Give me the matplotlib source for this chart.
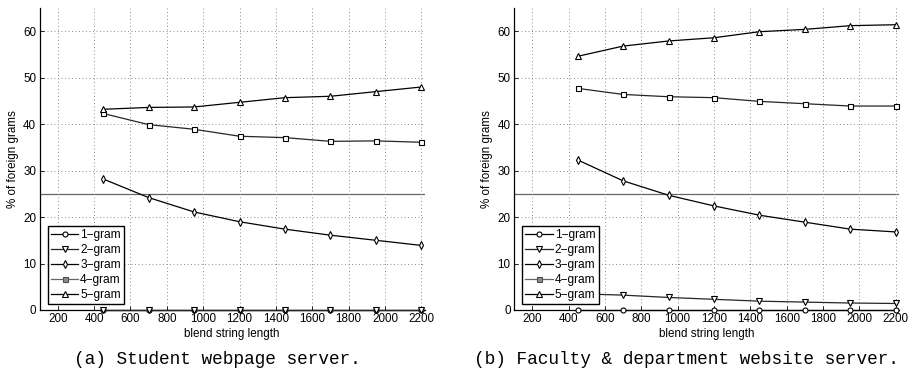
import matplotlib
matplotlib.use("Agg")
import matplotlib.pyplot as plt
from matplotlib.lines import Line2D

plt.rcParams['font.family'] = ['Liberation Sans', 'DejaVu Sans']

blend_len = [450, 700, 950, 1200, 1450, 1700, 1950, 2200]
series_names = ['1\u2212gram', '2\u2212gram', '3\u2212gram', '4\u2212gram', '5\u2212gram']

# (a) student webpage server
student = {
    '1': [0, 0, 0, 0, 0, 0, 0, 0],
    '2': [0, 0, 0, 0, 0, 0, 0, 0],
    '3': [28.2, 24.2, 21.1, 19.0, 17.4, 16.1, 15.0, 13.9],
    '4': [42.3, 39.9, 38.9, 37.4, 37.1, 36.3, 36.4, 36.1],
    '5': [43.2, 43.6, 43.7, 44.7, 45.7, 46.0, 47.0, 48.0],
}
# (b) faculty & department website server
faculty = {
    '1': [0, 0, 0, 0, 0, 0, 0, 0],
    '2': [3.5, 3.2, 2.7, 2.3, 1.9, 1.7, 1.5, 1.4],
    '3': [32.3, 27.8, 24.7, 22.4, 20.4, 18.9, 17.4, 16.8],
    '4': [47.7, 46.4, 45.9, 45.7, 44.9, 44.4, 43.9, 43.9],
    '5': [54.6, 56.8, 57.9, 58.6, 59.9, 60.4, 61.2, 61.4],
}
threshold = 25
x_ticks = [200, 400, 600, 800, 1000, 1200, 1400, 1600, 1800, 2000, 2200]
y_ticks = [0, 10, 20, 30, 40, 50, 60]
captions = ['(a) Student webpage server.', '(b) Faculty & department website server.']

markers = {'1': 'o', '2': 'v', '3': 'd', '4': 's', '5': '^'}
colors = {'1': 'black', '2': '0.15', '3': 'black', '4': '0.15', '5': 'black'}
msizes = {'1': 3.6, '2': 4.2, '3': 4.2, '4': 3.6, '5': 4.4}

fig = plt.figure(figsize=(9.18, 3.72), dpi=100)
W, H = 918, 372
positions = [
    [39.5 / W, (H - 310) / H, 385.5 / W, 302 / H],
    [514 / W, (H - 310) / H, 385.5 / W, 302 / H],
]

for pos, data, cap, cx in zip(positions, [student, faculty], captions, [217, 686]):
    ax = fig.add_axes(pos)
    ax.set_xlim(100, 2220)
    ax.set_ylim(0, 65)
    ax.axhline(threshold, color='0.4', lw=0.9, zorder=1)
    handles = []
    for k, name in zip(['1', '2', '3', '4', '5'], series_names):
        ax.plot(blend_len, data[k], color=colors[k], lw=0.9,
                marker=markers[k], ms=msizes[k], mfc='white',
                mec='black', mew=0.8, zorder=3, clip_on=False)
        handles.append(Line2D([], [], color='0.4' if k == '4' else colors[k], lw=0.9,
                              marker=markers[k], ms=msizes[k],
                              mfc='0.55' if k == '4' else 'white',
                              mec='0.3' if k == '4' else 'black', mew=0.8,
                              label=name))
    ax.set_xticks(x_ticks)
    ax.set_yticks(y_ticks)
    ax.grid(True, which='major', linestyle=(0, (1, 2.6)), color='0.55', lw=0.7)
    ax.tick_params(direction='in', length=3, width=0.6, labelsize=8.4,
                   top=False, right=False, pad=2.5)
    for s in ['top', 'right']:
        ax.spines[s].set_visible(False)
    for s in ['left', 'bottom']:
        ax.spines[s].set_linewidth(0.9)
    ax.set_xlabel('blend string length', fontsize=8.4, labelpad=1.5)
    ax.set_ylabel('% of foreign grams', fontsize=8.4, labelpad=3)
    leg = ax.legend(handles=handles, loc='lower left',
                    bbox_to_anchor=(8 / 385.5, 5.7 / 302), borderaxespad=0,
                    fontsize=8.6, fancybox=False, framealpha=1, edgecolor='black',
                    handlelength=2.3, handletextpad=0.15, labelspacing=0.24,
                    borderpad=0.28)
    leg.get_frame().set_linewidth(1.0)
    fig.text(cx / W, 1 - 359 / H, cap, ha='center', va='center',
             family='Liberation Mono', fontsize=12.8)

fig.savefig('out.png', dpi=100)
